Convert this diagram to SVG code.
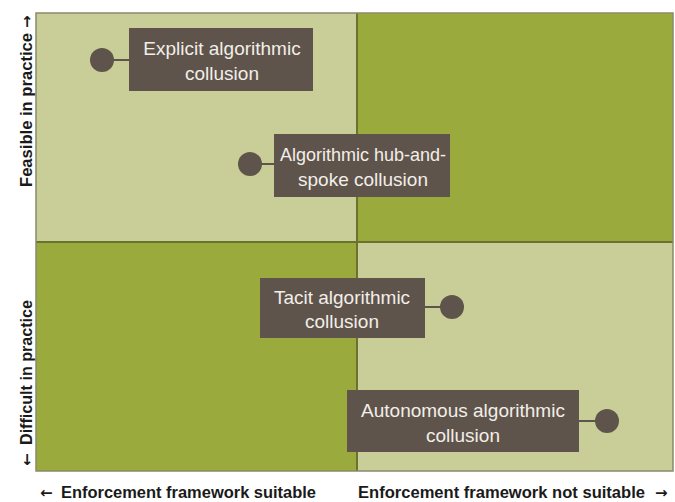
<svg xmlns="http://www.w3.org/2000/svg" width="675" height="502" viewBox="0 0 675 502">
<style>
.light{fill:#c9cd97}
.dark{fill:#9aaa3c}
.box{fill:#5f544b}
.dot{fill:#5f544b}
.conn{stroke:#5f544b;stroke-width:2;fill:none}
.lbl{font-family:"Liberation Sans",Arial,sans-serif;font-size:19px;fill:#f2eee8;text-anchor:middle}
.axis{font-family:"Liberation Sans",Arial,sans-serif;font-size:16.5px;font-weight:bold;fill:#1a1a1a}
.arr{font-family:"DejaVu Sans",sans-serif;font-size:15px;font-weight:bold;fill:#1a1a1a}
</style>
<rect width="675" height="502" fill="#ffffff"/>
<g id="quadrants">
<rect class="light" x="36" y="13" width="321" height="229"/>
<rect class="dark" x="357" y="13" width="316" height="229"/>
<rect class="dark" x="36" y="242" width="321" height="229"/>
<rect class="light" x="357" y="242" width="316" height="229"/>
<line x1="357" y1="13" x2="357" y2="471" stroke="#6b7230" stroke-width="2"/>
<line x1="36" y1="242" x2="673" y2="242" stroke="#6b7230" stroke-width="2"/>
<rect x="36" y="13" width="637" height="458" fill="none" stroke="#8a8a6a" stroke-width="1.5"/>
</g>
<g id="connectors">
<line class="conn" x1="102" y1="60" x2="129" y2="60"/>
<line class="conn" x1="250" y1="164" x2="274" y2="164"/>
<line class="conn" x1="425" y1="307" x2="452" y2="307"/>
<line class="conn" x1="579" y1="421" x2="607" y2="421"/>
</g>
<g id="explicit">
<circle class="dot" cx="102" cy="60" r="12"/>
<rect class="box" x="129" y="28" width="184" height="63"/>
<text class="lbl" x="222" y="55">Explicit algorithmic</text>
<text class="lbl" x="222" y="80">collusion</text>
</g>
<g id="hubspoke">
<circle class="dot" cx="250" cy="164" r="12"/>
<rect class="box" x="274" y="134" width="176" height="63"/>
<text class="lbl" x="363" y="161" textLength="166" lengthAdjust="spacingAndGlyphs">Algorithmic hub-and-</text>
<text class="lbl" x="363" y="186">spoke collusion</text>
</g>
<g id="tacit">
<circle class="dot" cx="452" cy="307" r="12"/>
<rect class="box" x="260" y="278" width="165" height="60"/>
<text class="lbl" x="342" y="304">Tacit algorithmic</text>
<text class="lbl" x="342" y="328">collusion</text>
</g>
<g id="autonomous">
<circle class="dot" cx="607" cy="421" r="12"/>
<rect class="box" x="347" y="390" width="232" height="62"/>
<text class="lbl" x="463" y="417">Autonomous algorithmic</text>
<text class="lbl" x="463" y="442">collusion</text>
</g>
<g id="axes">
<text class="arr" x="40" y="498">←</text>
<text class="axis" x="61" y="498" textLength="255" lengthAdjust="spacingAndGlyphs">Enforcement framework suitable</text>
<text class="axis" x="358" y="498" textLength="287" lengthAdjust="spacingAndGlyphs">Enforcement framework not suitable</text>
<text class="arr" x="655" y="498">→</text>
<text class="axis" transform="translate(32,187) rotate(-90)" textLength="154" lengthAdjust="spacingAndGlyphs">Feasible in practice</text>
<text class="arr" transform="translate(32,28) rotate(-90)">→</text>
<text class="arr" transform="translate(32,466) rotate(-90)">←</text>
<text class="axis" transform="translate(32,445) rotate(-90)" textLength="145" lengthAdjust="spacingAndGlyphs">Difficult in practice</text>
</g>
</svg>
